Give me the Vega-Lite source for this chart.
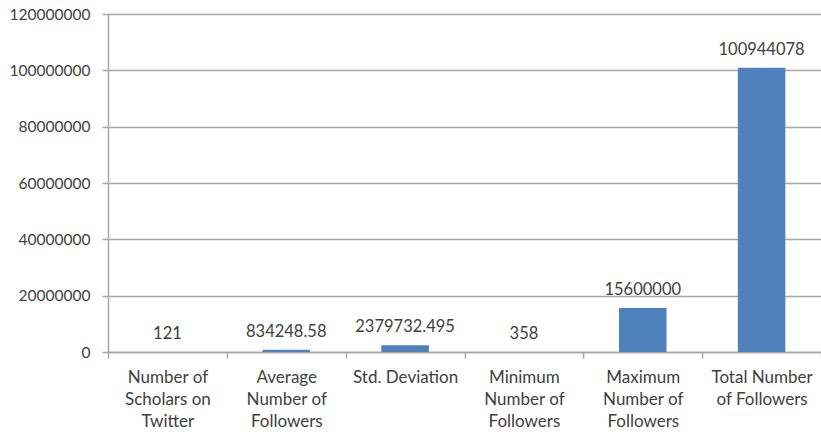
{
  "$schema": "https://vega.github.io/schema/vega-lite/v6.json",
  "autosize": "none",
  "width": 713,
  "height": 338,
  "padding": {"left": 108, "top": 14, "right": 0, "bottom": 80},
  "background": "white",
  "data": {
    "values": [
      {"measure": "Number of|Scholars on|Twitter", "value": 121},
      {"measure": "Average|Number  of|Followers", "value": 834248.58},
      {"measure": "Std. Deviation", "value": 2379732.495},
      {"measure": "Minimum|Number of|Followers", "value": 358},
      {"measure": "Maximum|Number of|Followers", "value": 15600000},
      {"measure": "Total Number|of Followers", "value": 100944078}
    ]
  },
  "config": {
    "view": {"stroke": null},
    "font": "Lato",
    "axis": {
      "labelFont": "Lato",
      "labelFontSize": 15.5,
      "labelColor": "#404040",
      "domainColor": "#a6a6a6",
      "domainWidth": 1.5,
      "tickColor": "#a6a6a6",
      "tickWidth": 1.5,
      "gridColor": "#a6a6a6",
      "gridWidth": 1.5,
      "title": null
    }
  },
  "encoding": {
    "x": {
      "field": "measure",
      "type": "nominal",
      "sort": null,
      "scale": {"paddingInner": 0, "paddingOuter": 0},
      "axis": {
        "labelAngle": 0,
        "labelExpr": "split(datum.label, '|')",
        "labelFontSize": 17,
        "labelLineHeight": 22,
        "labelPadding": 11,
        "labelBaseline": "top",
        "tickSize": 6,
        "tickBand": "extent",
        "grid": false
      }
    }
  },
  "layer": [
    {
      "mark": {"type": "bar", "color": "#4f81bd", "width": {"band": 0.4}},
      "encoding": {
        "y": {
          "field": "value",
          "type": "quantitative",
          "scale": {"domain": [0, 120000000], "nice": false},
          "axis": {
            "values": [0, 20000000, 40000000, 60000000, 80000000, 100000000, 120000000],
            "format": "d",
            "grid": true,
            "tickSize": 6,
            "labelPadding": 12
          }
        }
      }
    },
    {
      "mark": {"type": "text", "baseline": "bottom", "dy": -10, "fontSize": 16.5, "color": "#404040", "font": "Lato"},
      "encoding": {
        "y": {"field": "value", "type": "quantitative"},
        "text": {"field": "value", "type": "quantitative", "format": ""}
      }
    }
  ]
}
